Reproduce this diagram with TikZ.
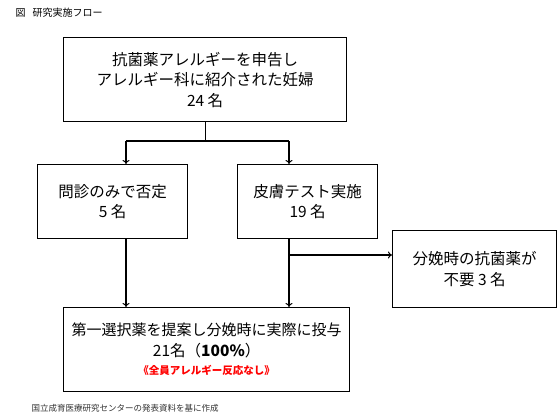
\documentclass[tikz,border=0pt]{standalone}
\usepackage{fontspec}
\setmainfont{Noto Sans CJK JP}
\usetikzlibrary{arrows.meta}
\begin{document}
\begin{tikzpicture}[x=1pt,y=-1pt,
  box/.style={draw, line width=1.3pt, inner sep=0pt, align=center, anchor=north west,
    font=\fontsize{15.5}{20.5}\selectfont},
  conn/.style={line width=1.1pt},
  arr/.style={conn, -{To[length=4pt,width=7pt,line width=1pt]}}]
\useasboundingbox[fill=white] (0,0) rectangle (560,420);
\node[anchor=west, font=\fontsize{10}{12}\selectfont] (title) at (12,13) {図\hspace{0.7em}研究実施フロー};
\node[box, minimum width=283pt, minimum height=84pt] (top) at (63,37)
  {抗菌薬アレルギーを申告し\\アレルギー科に紹介された妊婦\\24 名};
\node[box, minimum width=150pt, minimum height=74pt] (left) at (37,164)
  {問診のみで否定\\5 名};
\node[box, minimum width=140pt, minimum height=74pt] (right) at (237,164)
  {皮膚テスト実施\\19 名};
\node[box, minimum width=164pt, minimum height=77pt] (third) at (392,230)
  {分娩時の抗菌薬が\\不要 3 名};
\node[box, minimum width=286pt, minimum height=84pt] (bottom) at (63,307)
  {\fontsize{15}{20}\selectfont 第一選択薬を提案し分娩時に実際に投与\\
   21名（\textbf{100\%}）\\[-2pt]
   {\fontsize{10.5}{12}\selectfont\bfseries\color{red}《全員アレルギー反応なし》}};
\node[anchor=west, font=\fontsize{8.5}{10}\selectfont, text=black!80] (cap) at (28,408)
  {国立成育医療研究センターの発表資料を基に作成};
\coordinate (xl) at (126,141);
\coordinate (xr) at (289,141);
\coordinate (br) at (289,255);
\draw[conn] (top.south) -- (top.south |- xl);
\draw[conn] (xl) -- (xr);
\draw[arr] (xl) -- (xl |- left.north);
\draw[arr] (xr) -- (xr |- right.north);
\draw[arr] (xl |- left.south) -- (xl |- bottom.north);
\draw[arr] (xr |- right.south) -- (xr |- bottom.north);
\draw[arr] (br) -- (br -| third.west);
\end{tikzpicture}
\end{document}
